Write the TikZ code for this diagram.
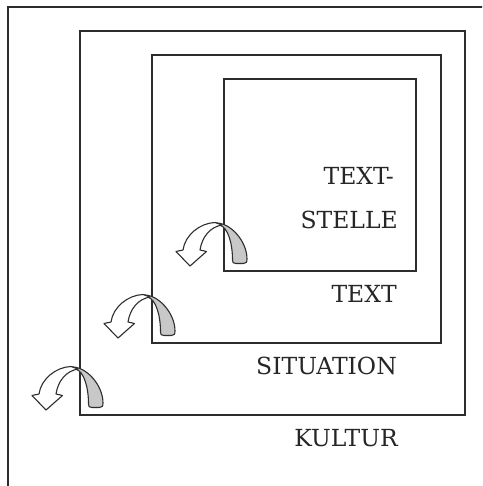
\documentclass[tikz,border=0pt]{standalone}
\usepackage{fontspec}
\setmainfont{DejaVu Serif}
\definecolor{framegray}{RGB}{45,45,45}
\definecolor{bandgray}{RGB}{200,200,200}
\tikzset{
  frame/.style={draw=framegray, line width=1.5pt},
  label/.style={inner sep=0pt, font=\fontsize{23.5}{28}\selectfont, text=black!85},
  arrowline/.style={draw=framegray, line width=1.1pt, line join=round},
  % curled 3D arrow: grey back half, white front half with head
  curl/.pic={
    \filldraw[arrowline, fill=bandgray]
      (-9,-48) .. controls (6,-49) and (23,-30) .. (23,-12)
      .. controls (23,-8.5) and (22,-7.5) .. (19,-7.5) -- (12,-7.5)
      .. controls (9,-7.5) and (8.5,-8.5) .. (8.5,-11)
      .. controls (8.5,-28) and (4,-43) .. (-4,-46) -- cycle;
    \filldraw[arrowline, fill=white]
      (-9,-48.5) .. controls (-24,-48) and (-39,-36) .. (-41,-21)
      -- (-48,-19.5) -- (-34,-5) -- (-17.5,-19.5) -- (-24,-21)
      .. controls (-22,-34) and (-14,-44) .. (-2,-46) -- cycle;
  }
}
\begin{document}
\begin{tikzpicture}[x=1pt, y=-1pt]
  \clip (0,0) rectangle (482,486);
  \fill[white] (0,0) rectangle (482,486);

  % nested frames
  \draw[frame] (8,495) -- (8,7) -- (495,7);
  \draw[frame] (80,31) rectangle (465,415);
  \draw[frame] (152,55) rectangle (441,343);
  \draw[frame] (224,79) rectangle (416,271);

  % curled arrows at the lower left corners
  \pic at (224,271) {curl};
  \pic at (152,343) {curl};
  \pic at (80,415) {curl};

  % labels
  \node[label, anchor=base east] (textstelleA) at (394,184) {TEXT-};
  \node[label, anchor=base east] (textstelleB) at (398,228) {STELLE};
  \node[label, anchor=base east] (text) at (397,302) {TEXT};
  \node[label, anchor=base east] (situation) at (397,374) {SITUATION};
  \node[label, anchor=base east] (kultur) at (398,446) {KULTUR};
\end{tikzpicture}
\end{document}
